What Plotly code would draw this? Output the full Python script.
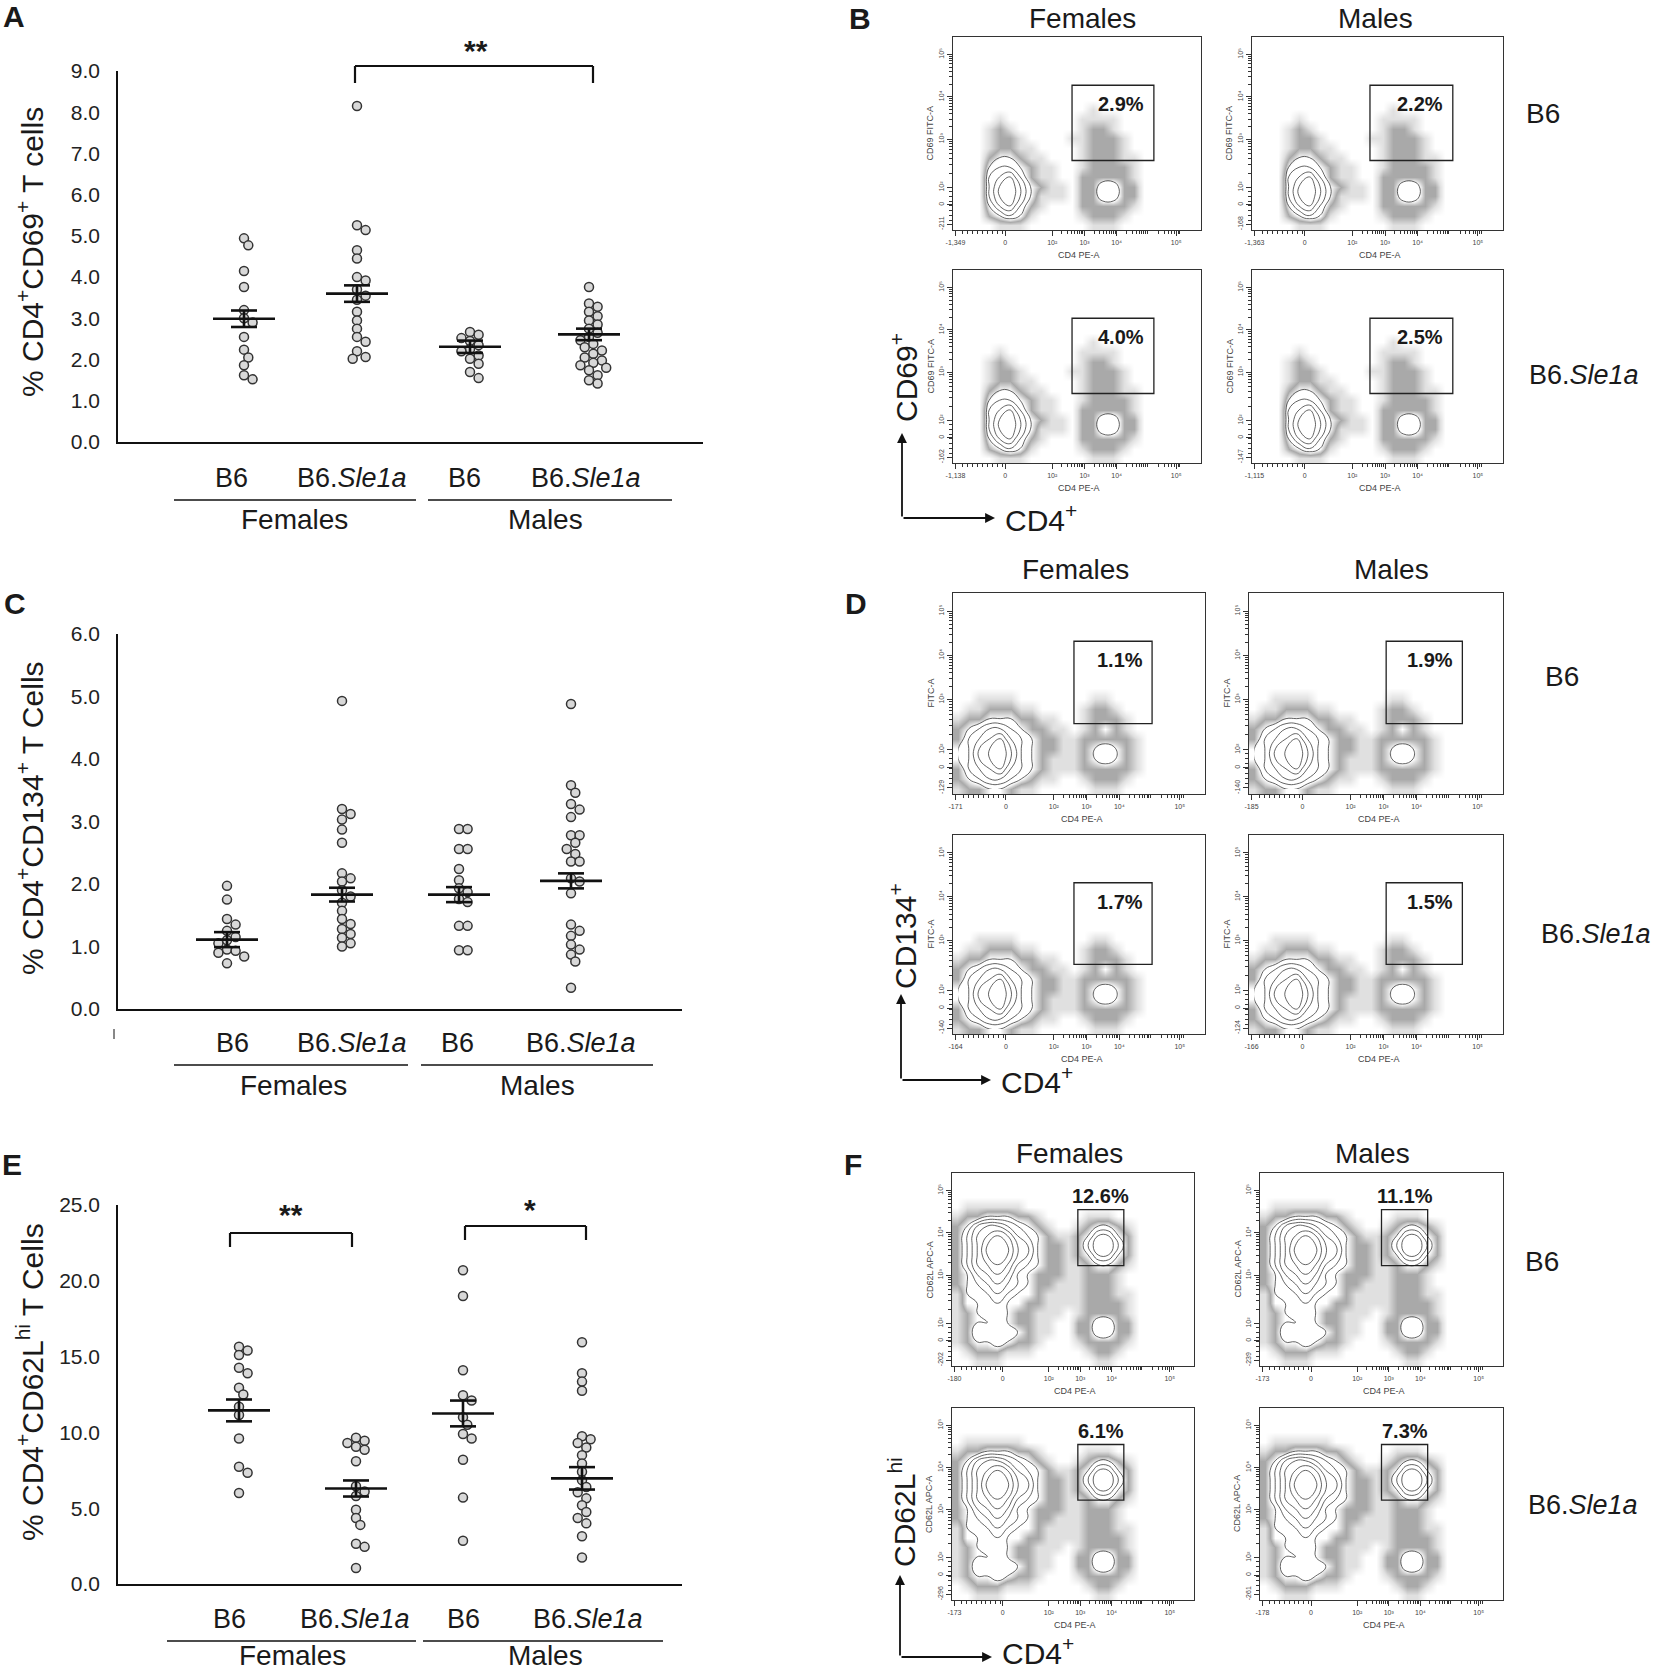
import math
import plotly.graph_objects as go

W, H = 1654, 1671
SANS = "Liberation Sans, Arial, Helvetica, sans-serif"
NARROW = "Liberation Sans Narrow, Arial Narrow, Liberation Sans, sans-serif"
INK = "#1a1a1a"

# ---------------- dot plot values ----------------
GROUPS = ["B6", "B6.<i>Sle1a</i>", "B6", "B6.<i>Sle1a</i>"]
SEXES = ["Females", "Males"]

CD69_B6_F = [4.94, 4.77, 4.15, 3.76, 3.2, 3.0, 2.9, 2.55, 2.24, 2.05, 1.86, 1.62, 1.52]
CD69_SLE_F = [8.15, 5.26, 5.14, 4.65, 4.45, 4.0, 3.92, 3.7, 3.55, 3.45, 3.16, 2.95,
              2.75, 2.55, 2.43, 2.2, 2.06, 2.02]
CD69_B6_M = [2.67, 2.6, 2.52, 2.45, 2.35, 2.25, 2.2, 2.1, 2.02, 1.9, 1.7, 1.55]
CD69_SLE_M = [3.76, 3.36, 3.28, 3.16, 3.05, 2.95, 2.85, 2.75, 2.65, 2.55, 2.47, 2.38,
              2.3, 2.22, 2.14, 2.05, 1.98, 1.92, 1.86, 1.8, 1.74, 1.62, 1.5, 1.42]
CD69_MEAN = [2.99, 3.60, 2.31, 2.61]
CD69_SEM = [0.20, 0.20, 0.15, 0.14]

CD134_B6_F = [1.97, 1.75, 1.44, 1.35, 1.25, 1.15, 1.1, 1.05, 0.95, 0.93, 0.9, 0.84, 0.73]
CD134_SLE_F = [4.93, 3.2, 3.12, 3.03, 2.87, 2.66, 2.17, 2.09, 2.04, 1.9, 1.8, 1.7,
               1.57, 1.44, 1.36, 1.28, 1.2, 1.14, 1.05, 1.0]
CD134_B6_M = [2.88, 2.88, 2.56, 2.56, 2.24, 2.06, 1.93, 1.87, 1.76, 1.71, 1.33, 1.33, 0.94, 0.94]
CD134_SLE_M = [4.88, 3.58, 3.46, 3.28, 3.19, 3.07, 2.78, 2.78, 2.66, 2.56, 2.48, 2.36,
               2.36, 2.09, 2.04, 1.85, 1.35, 1.25, 1.17, 1.03, 0.95, 0.87, 0.76, 0.34]
CD134_MEAN = [1.11, 1.83, 1.83, 2.05]
CD134_SEM = [0.12, 0.11, 0.12, 0.12]

CD62L_B6_F = [15.65, 15.4, 15.1, 14.27, 13.9, 12.95, 12.5, 11.7, 11.15, 9.6, 7.73, 7.34, 6.0]
CD62L_SLE_F = [9.65, 9.45, 9.3, 9.05, 8.85, 8.1, 6.45, 6.1, 5.8, 4.9, 4.35, 3.9, 2.65, 2.45, 1.05]
CD62L_B6_M = [20.7, 19.0, 14.1, 12.45, 12.1, 11.0, 10.5, 9.9, 9.6, 8.2, 5.7, 2.85]
CD62L_SLE_M = [15.95, 13.9, 13.35, 12.75, 9.75, 9.55, 9.3, 9.0, 8.5, 7.95, 7.4, 6.85,
               6.4, 6.05, 5.65, 5.2, 4.75, 4.35, 4.0, 3.15, 1.75]
CD62L_MEAN = [11.45, 6.30, 11.25, 6.97]
CD62L_SEM = [0.72, 0.53, 0.85, 0.74]

# ---------------- flow cytometry panels ----------------
FLOW_ROWS = ["B6", "B6.<i>Sle1a</i>"]
CD69_PCT = [["2.9%", "2.2%"], ["4.0%", "2.5%"]]
CD134_PCT = [["1.1%", "1.9%"], ["1.7%", "1.5%"]]
CD62L_PCT = [["12.6%", "11.1%"], ["6.1%", "7.3%"]]
# lowest axis values printed on each plot: (x, y)
CD69_MIN = [[("-1,349", "-211"), ("-1,363", "-168")], [("-1,138", "-162"), ("-1,115", "-147")]]
CD134_MIN = [[("-171", "-129"), ("-185", "-140")], [("-164", "-140"), ("-166", "-124")]]
CD62L_MIN = [[("-180", "-202"), ("-173", "-239")], [("-173", "-296"), ("-178", "-261")]]

# rough event density, 24 columns (CD4 axis) x 20 rows (top row = high marker)
CD69_DENSITY = [
    "000000000000000000000000",
    "000000000000000000000000",
    "000000000000000000000000",
    "000000000000000000000000",
    "000000000000000000000000",
    "000000000000000000000000",
    "000000000000000000000000",
    "000000000000010000000000",
    "000010000000111100000000",
    "000121000000122100000000",
    "000122100001122210000000",
    "000122110000122210000000",
    "000233211000122211000000",
    "000344321100122221000000",
    "000456421100222221000000",
    "000467532110224422000000",
    "000467531110224422000000",
    "000356421000222221000000",
    "000234310000122210000000",
    "000011100000011100000000",
]
CD134_DENSITY = [
    "000000000000000000000000",
    "000000000000000000000000",
    "000000000000000000000000",
    "000000000000000000000000",
    "000000000000000000000000",
    "000000000000000000000000",
    "000000000000000000000000",
    "000000000000000000000000",
    "000000000000000000000000",
    "000000000000000000000000",
    "001111000000011000000000",
    "011222110000122100000000",
    "122333221100122210000000",
    "234554322110123210000000",
    "245675432211222221000000",
    "346786432211234321000000",
    "346786432111234321000000",
    "245675432111222221000000",
    "234554321100122210000000",
    "122332110000011100000000",
]
CD62L_DENSITY = [
    "000000000000000000000000",
    "000000000000000000000000",
    "000000000000000000000000",
    "011111100000000000000000",
    "122333221000011100000000",
    "235665432100123321000000",
    "246787543211235532000000",
    "246898653221246642000000",
    "246898653221235532000000",
    "246787543221123321000000",
    "235676432221122210000000",
    "234565432211122210000000",
    "134454332111122211000000",
    "133443322111122221000000",
    "123443221110122221000000",
    "123343221100224422000000",
    "124444321100224422000000",
    "123343221000122221000000",
    "012221110000012210000000",
    "001110000000001100000000",
]

fig = go.Figure()
annotations = []
shapes = []


def px(x):
    return x / W


def py(y):
    return 1 - y / H


def text(x, y, s, size, bold=False, angle=0, xanchor="center", yanchor="middle",
         family=SANS, color=INK):
    if bold:
        s = f"<b>{s}</b>"
    annotations.append(dict(x=px(x), y=py(y), xref="paper", yref="paper", text=s,
                            showarrow=False, textangle=angle, xanchor=xanchor,
                            yanchor=yanchor, font=dict(size=size, family=family, color=color)))


def line(x0, y0, x1, y1, w=1.6, color="#111"):
    shapes.append(dict(type="line", xref="paper", yref="paper", x0=px(x0), y0=py(y0),
                       x1=px(x1), y1=py(y1), line=dict(color=color, width=w)))


def arrow(tip, tail):
    annotations.append(dict(x=px(tip[0]), y=py(tip[1]), xref="paper", yref="paper", text="",
                            showarrow=True, ax=tail[0] - tip[0], ay=tail[1] - tip[1],
                            arrowhead=2, arrowsize=1.1, arrowwidth=1.8, arrowcolor="#111",
                            standoff=0))


def swarm(vals, ppu, diam=8.0, step=4.3):
    placed, offs = [], []
    for v in vals:
        c = 0.0
        for k in range(14):
            c = step * ((k + 1) // 2) * (1 if k % 2 else -1)
            if all((c - o) ** 2 + ((v - pv) * ppu) ** 2 >= diam ** 2 for pv, o in placed):
                break
        placed.append((v, c))
        offs.append(c)
    return offs


def ax_names(n):
    s = "" if n == 1 else str(n)
    return "x" + s, "y" + s, "xaxis" + s, "yaxis" + s


def dot_panel(n, spec):
    xa, ya, xk, yk = ax_names(n)
    left, top, right, bottom = spec["box"]
    ymax = spec["ymax"]
    ppu = (bottom - top) / ymax
    for vals, c in zip(spec["values"], spec["centers"]):
        offs = swarm(vals, ppu)
        fig.add_trace(go.Scatter(
            x=[c + o for o in offs], y=vals, mode="markers", xaxis=xa, yaxis=ya,
            marker=dict(size=9, color="#d8d8d8", line=dict(color="#333", width=1.5)),
            hoverinfo="skip", showlegend=False, cliponaxis=False))
    for m, s, c in zip(spec["mean"], spec["sem"], spec["centers"]):
        fig.add_trace(go.Scatter(
            x=[c - 31, c + 31, None, c - 13, c + 13, None, c - 13, c + 13, None, c, c],
            y=[m, m, None, m + s, m + s, None, m - s, m - s, None, m - s, m + s],
            mode="lines", line=dict(color="#111", width=2.6), xaxis=xa, yaxis=ya,
            hoverinfo="skip", showlegend=False))
    tv = spec["ticks"]
    fig.update_layout({
        xk: dict(domain=[px(left), px(right)], range=[left, right], anchor=ya,
                 showline=True, linecolor="#111", linewidth=1.6, showticklabels=False,
                 ticks="", showgrid=False, zeroline=False),
        yk: dict(domain=[py(bottom), py(top)], range=[0, ymax], anchor=xa,
                 showline=True, linecolor="#111", linewidth=1.6, ticks="",
                 tickvals=tv, ticktext=[f"{v:.1f}" for v in tv], ticklabelstandoff=12,
                 tickfont=dict(size=21, family=SANS, color="#222"),
                 showgrid=False, zeroline=False),
    })
    for lbl, x in zip(GROUPS, spec["label_x"]):
        text(x, spec["label_y"], lbl, 27)
    for sex, (x0, x1), sx in zip(SEXES, spec["sex_lines"], spec["sex_x"]):
        line(x0, spec["line_y"], x1, spec["line_y"], w=1.4)
        text(sx, spec["sex_y"], sex, 28)
    text(spec["title_pos"][0], spec["title_pos"][1], spec["title"], 30, angle=-90)
    text(spec["letter_pos"][0], spec["letter_pos"][1], spec["letter"], 30, bold=True)


DOT_PANELS = [
    dict(values=[CD69_B6_F, CD69_SLE_F, CD69_B6_M, CD69_SLE_M], mean=CD69_MEAN, sem=CD69_SEM,
         box=(118, 71, 703, 442), ymax=9, ticks=list(range(0, 10)),
         centers=[244, 357, 470, 589], label_x=[231, 352, 464, 586], label_y=478,
         line_y=500, sex_lines=[(174, 416), (428, 672)], sex_x=[294, 545], sex_y=519,
         title="% CD4<sup>+</sup>CD69<sup>+</sup> T cells", title_pos=(30, 252),
         letter="A", letter_pos=(14, 17)),
    dict(values=[CD134_B6_F, CD134_SLE_F, CD134_B6_M, CD134_SLE_M], mean=CD134_MEAN,
         sem=CD134_SEM, box=(118, 634, 682, 1009), ymax=6, ticks=list(range(0, 7)),
         centers=[227, 342, 459, 571], label_x=[232, 352, 458, 581], label_y=1043,
         line_y=1065, sex_lines=[(174, 408), (421, 653)], sex_x=[293, 537], sex_y=1085,
         title="% CD4<sup>+</sup>CD134<sup>+</sup> T Cells", title_pos=(30, 818),
         letter="C", letter_pos=(15, 603)),
    dict(values=[CD62L_B6_F, CD62L_SLE_F, CD62L_B6_M, CD62L_SLE_M], mean=CD62L_MEAN,
         sem=CD62L_SEM, box=(118, 1205, 682, 1584), ymax=25, ticks=list(range(0, 26, 5)),
         centers=[239, 356, 463, 582], label_x=[230, 355, 463, 588], label_y=1619,
         line_y=1641, sex_lines=[(167, 416), (423, 663)], sex_x=[292, 545], sex_y=1655,
         title="% CD4<sup>+</sup>CD62L<sup>hi</sup> T Cells", title_pos=(30, 1382),
         letter="E", letter_pos=(12, 1164)),
]

for i, spec in enumerate(DOT_PANELS):
    dot_panel(i + 1, spec)

# significance brackets
for (x0, x1, yb, yd), (sx, sy, star) in [((355, 593, 66, 83), (476, 50, "**")),
                                         ((230, 352, 1233, 1247), (291, 1214, "**")),
                                         ((465, 586, 1226, 1240), (530, 1209, "*"))]:
    line(x0, yb, x1, yb, w=2.2)
    line(x0, yb, x0, yd, w=2.2)
    line(x1, yb, x1, yd, w=2.2)
    text(sx, sy, star, 30, bold=True)

line(114, 1029, 114, 1039, w=1)

# ---------------- flow panels ----------------
GX = [(j + 0.5) / 24 for j in range(24)]
GY = [(i + 0.5) / 20 for i in range(20)]
FLOW_CS = [[0, "#ffffff"], [1 / 9, "#e0e0e0"], [2 / 9, "#a9a9a9"], [3 / 9, "#ffffff"], [1, "#ffffff"]]

Y_MAJOR = [0.03, 0.13, 0.22, 0.47, 0.69, 0.91]
X_MAJOR = [0.01, 0.21, 0.40, 0.53, 0.66, 0.90]
DECADES_Y = [(0.22, 0.47), (0.47, 0.69), (0.69, 0.91)]
DECADES_X = [(0.40, 0.53), (0.53, 0.66), (0.66, 0.79), (0.79, 0.92)]
Y_MINOR = [0.05 + 0.025 * k for k in range(7)] + [a + (b - a) * math.log10(k)
                                                   for a, b in DECADES_Y for k in range(2, 10)]
X_MINOR = [0.04 + 0.02 * k for k in range(9)] + [a + (b - a) * math.log10(k)
                                                  for a, b in DECADES_X for k in range(2, 10)]
SUP = ["0", "10²", "10³", "10⁴", "10⁵"]

FLOW_PANELS = [
    dict(cols=[(953, 1201), (1252, 1503)], rows=[(37, 230), (270, 463)], dens=CD69_DENSITY,
         pct=CD69_PCT, mins=CD69_MIN, gate_x=[(0.48, 0.81), (0.47, 0.80)], gate_y=(0.36, 0.75),
         above=False, ytitle="CD69 FITC-A", letter="B", letter_pos=(860, 18),
         sex_pos=[(1082, 18), (1375, 18)], row_pos=[(1543, 113), (1584, 375)],
         corner=(902, 518), vtip=433, htip=995, vlabel="CD69<sup>+</sup>", vlabel_y=378,
         hlabel_y=518),
    dict(cols=[(953, 1205), (1249, 1503)], rows=[(593, 794), (835, 1034)], dens=CD134_DENSITY,
         pct=CD134_PCT, mins=CD134_MIN, gate_x=[(0.48, 0.79), (0.54, 0.84)], gate_y=(0.35, 0.76),
         above=False, ytitle="FITC-A", letter="D", letter_pos=(856, 603),
         sex_pos=[(1075, 570), (1391, 570)], row_pos=[(1562, 676), (1596, 934)],
         corner=(901, 1080), vtip=994, htip=991, vlabel="CD134<sup>+</sup>", vlabel_y=936,
         hlabel_y=1080),
    dict(cols=[(952, 1194), (1260, 1503)], rows=[(1173, 1366), (1408, 1600)], dens=CD62L_DENSITY,
         pct=CD62L_PCT, mins=CD62L_MIN, gate_x=[(0.52, 0.71), (0.50, 0.69)], gate_y=(0.52, 0.81),
         above=True, ytitle="CD62L APC-A", letter="F", letter_pos=(853, 1164),
         sex_pos=[(1069, 1153), (1372, 1153)], row_pos=[(1542, 1261), (1583, 1505)],
         corner=(900, 1657), vtip=1575, htip=992, vlabel="CD62L<sup>hi</sup>", vlabel_y=1512,
         hlabel_y=1651),
]

n = len(DOT_PANELS)
for spec in FLOW_PANELS:
    z = [[int(ch) for ch in row[:24].ljust(24, "0")] for row in spec["dens"]][::-1]
    for r, (top, bottom) in enumerate(spec["rows"]):
        for c, (left, right) in enumerate(spec["cols"]):
            n += 1
            xa, ya, xk, yk = ax_names(n)
            fig.add_trace(go.Heatmap(x=GX, y=GY, z=z, zmin=0, zmax=9, zsmooth="best",
                                     colorscale=FLOW_CS, showscale=False, hoverinfo="skip",
                                     xaxis=xa, yaxis=ya))
            fig.add_trace(go.Contour(x=GX, y=GY, z=z, showscale=False, hoverinfo="skip",
                                     contours=dict(start=3, end=8, size=1, coloring="none"),
                                     line=dict(color="#3c3c3c", width=0.8, smoothing=1.3),
                                     xaxis=xa, yaxis=ya))
            xmin, ymin = spec["mins"][r][c]
            common = dict(range=[0, 1], showline=True, mirror=True, linecolor="#333",
                          linewidth=1.2, ticks="outside", ticklen=5, tickwidth=1,
                          tickcolor="#333", showgrid=False, zeroline=False,
                          tickfont=dict(size=7, family=NARROW, color="#444"))
            fig.update_layout({
                xk: dict(domain=[px(left), px(right)], anchor=ya, tickvals=X_MAJOR,
                         ticktext=[xmin] + SUP,
                         minor=dict(tickvals=X_MINOR, ticklen=3, ticks="outside",
                                    tickcolor="#333"), **common),
                yk: dict(domain=[py(bottom), py(top)], anchor=xa, tickvals=Y_MAJOR,
                         ticktext=[ymin] + SUP, tickangle=-90,
                         minor=dict(tickvals=Y_MINOR, ticklen=3, ticks="outside",
                                    tickcolor="#333"), **common),
            })
            gx0, gx1 = spec["gate_x"][c]
            gy0, gy1 = spec["gate_y"]
            shapes.append(dict(type="rect", xref=xa, yref=ya, x0=gx0, x1=gx1, y0=gy0, y1=gy1,
                               line=dict(color="#222", width=1.3)))
            if spec["above"]:
                annotations.append(dict(x=(gx0 + gx1) / 2, y=gy1 + 0.005, xref=xa, yref=ya,
                                        text=f"<b>{spec['pct'][r][c]}</b>", showarrow=False,
                                        xanchor="center", yanchor="bottom",
                                        font=dict(size=20, family=SANS, color=INK)))
            else:
                annotations.append(dict(x=gx1 - 0.03, y=gy1 - 0.03, xref=xa, yref=ya,
                                        text=f"<b>{spec['pct'][r][c]}</b>", showarrow=False,
                                        xanchor="right", yanchor="top",
                                        font=dict(size=20, family=SANS, color=INK)))
            text(left - 23, top + (bottom - top) * 0.5, spec["ytitle"], 9, angle=-90,
                 family=NARROW, color="#444")
            text(left + (right - left) * 0.51, bottom + 25, "CD4 PE-A", 9,
                 family=NARROW, color="#444")
    text(spec["letter_pos"][0], spec["letter_pos"][1], spec["letter"], 30, bold=True)
    for sex, (sx, sy) in zip(SEXES, spec["sex_pos"]):
        text(sx, sy, sex, 28)
    for lbl, (rx, ry) in zip(FLOW_ROWS, spec["row_pos"]):
        text(rx, ry, lbl, 28 if rx < 1570 else 27)
    cx, cy = spec["corner"]
    arrow((cx, spec["vtip"]), (cx, cy))
    arrow((spec["htip"], cy), (cx, cy))
    text(cx + 2, spec["vlabel_y"], spec["vlabel"], 30, angle=-90)
    text(spec["htip"] + 8, spec["hlabel_y"], "CD4<sup>+</sup>", 30, xanchor="left")

fig.update_xaxes(automargin=False)
fig.update_yaxes(automargin=False)
fig.update_layout(width=W, height=H, autosize=False,
                  margin=dict(l=0, r=0, t=0, b=0, pad=0, autoexpand=False),
                  paper_bgcolor="white", plot_bgcolor="white", showlegend=False,
                  annotations=annotations, shapes=shapes)

fig.write_html("out.html", config={"displayModeBar": False},
               post_script="document.body.style.margin='0';document.body.style.overflow='hidden';")
